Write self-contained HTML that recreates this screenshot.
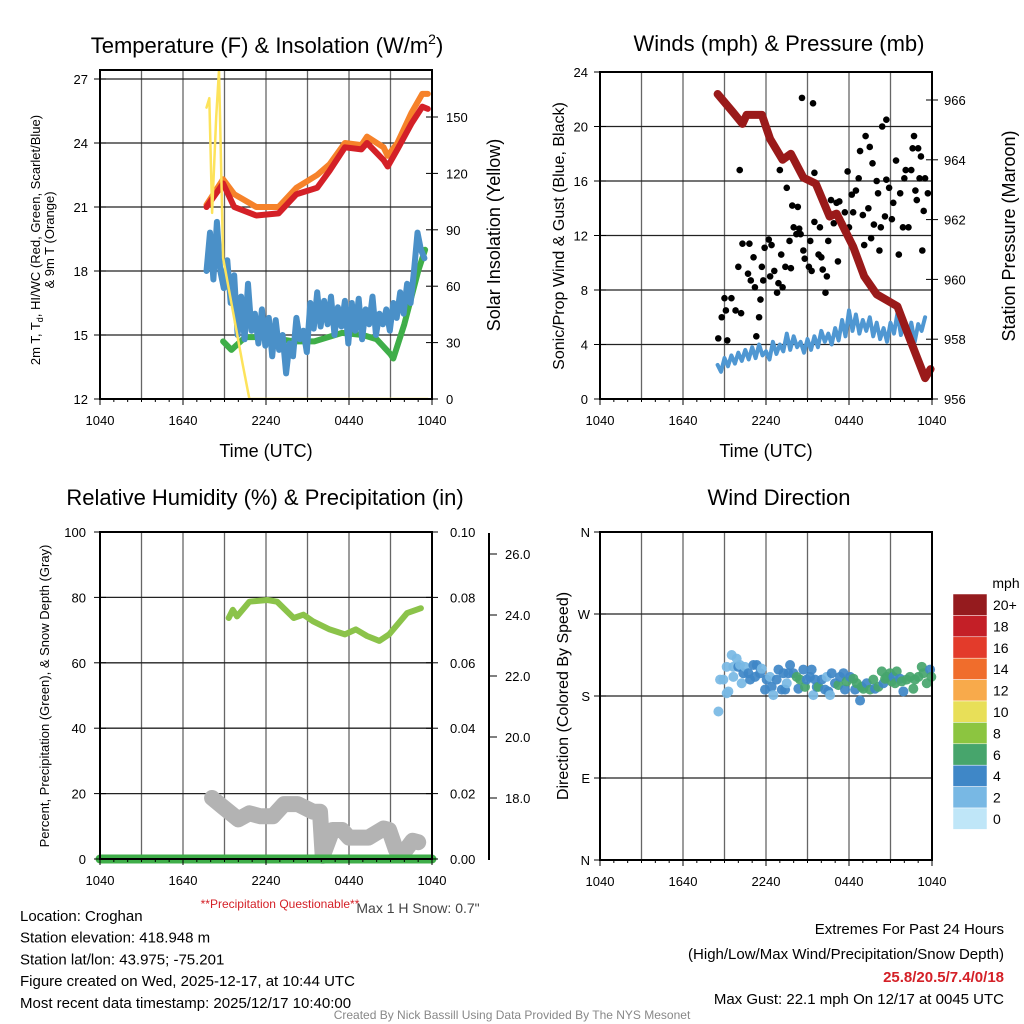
<!DOCTYPE html>
<html><head><meta charset="utf-8">
<style>
html,body{margin:0;padding:0;background:#fff;}
svg{display:block;font-family:"Liberation Sans",Arial,sans-serif;}
</style></head>
<body>
<svg id="c" width="1024" height="1024" viewBox="0 0 1024 1024" xmlns="http://www.w3.org/2000/svg">
<rect x="0" y="0" width="1024" height="1024" fill="#fff"/>
<g id="layer"></g>
</svg>
<script>
// ---------- DATA ----------
const tempHours = [7.7, 8.9, 9.7, 11.3, 12.9, 14.2, 15.7, 16.6, 17.7, 18.9, 19.3, 20.5, 20.8, 21.5, 22.5, 23.3, 23.7];
const tempRed   = [21.0, 22.1, 21.0, 20.6, 20.7, 21.6, 21.9, 22.7, 23.8, 23.7, 24.0, 23.2, 22.9, 23.7, 24.9, 25.7, 25.6];
const tempOrange= [21.1, 22.3, 21.6, 21.0, 21.0, 21.9, 22.5, 23.0, 24.0, 23.9, 24.3, 23.8, 23.4, 24.0, 25.4, 26.3, 26.3];
const dewHours  = [8.9, 9.5, 10.5, 12.0, 14.0, 15.5, 17.5, 19.0, 20.0, 21.0, 21.2, 22.0, 23.0, 23.5];
const dewGreen  = [14.7, 14.3, 14.9, 14.9, 14.7, 14.7, 15.1, 15.0, 14.8, 14.1, 13.9, 15.5, 18.0, 19.0];
const hiStart = 7.7, hiStep = 0.25;
const hiBlue = [18.0,19.8,17.6,20.3,18.0,17.2,18.5,16.5,17.8,15.0,16.8,14.8,17.4,15.2,16.0,14.6,16.2,14.5,15.8,14.0,15.7,14.3,15.0,13.2,14.6,14.0,15.8,14.8,15.2,14.2,16.5,15.3,17.0,15.4,16.6,15.5,16.8,15.0,16.3,15.4,16.6,14.6,16.5,15.2,16.7,14.8,16.2,15.5,16.8,15.0,16.0,15.5,16.2,15.2,16.5,15.8,17.0,16.0,17.4,16.5,18.0,19.8,19.0,18.6];
const solarHours = [7.7, 7.9, 8.1, 8.4, 8.6, 8.9, 9.5, 10.3, 10.8, 23.7];
const solarVals  = [155, 160, 99, 150, 175, 75, 51, 19, 0, 0];
const presHours = [8.5, 9.6, 10.3, 10.6, 11.7, 12.3, 13.2, 13.8, 14.7, 15.6, 16.6, 17.1, 18.3, 19.1, 20.0, 21.5, 22.4, 23.5, 23.9];
const presVals  = [966.2, 965.6, 965.2, 965.5, 965.5, 964.7, 964.0, 964.2, 963.4, 963.2, 962.1, 962.2, 961.1, 960.1, 959.5, 959.1, 958.0, 956.7, 957.0];
const windStart = 8.5, windStep = 0.25;
const windBlue = [2.5,2.0,3.0,2.4,3.2,2.6,3.4,2.8,3.6,2.9,3.8,3.0,4.0,3.2,3.5,2.9,4.2,3.3,4.0,3.5,4.8,3.6,4.6,3.8,4.2,3.4,4.4,3.6,4.6,3.8,5.0,4.2,4.8,4.0,5.2,4.3,5.8,4.6,6.5,5.0,6.2,4.8,5.8,5.0,6.0,4.6,5.6,4.4,5.2,4.2,5.6,4.8,6.3,4.7,5.8,4.5,5.6,4.2,5.5,5.0,6.0];
const gustHours = [8.55,8.8,9.0,9.1,9.2,9.5,9.8,10.0,10.1,10.2,10.3,10.7,10.8,10.9,11.1,11.2,11.3,11.5,11.6,11.7,11.8,11.9,12.2,12.3,12.4,12.6,12.8,12.9,13.0,13.1,13.2,13.4,13.5,13.7,13.8,13.9,14.0,14.2,14.3,14.4,14.5,14.6,14.7,14.8,15.1,15.2,15.3,15.4,15.5,15.5,15.8,15.9,16.0,16.1,16.3,16.4,16.5,16.7,16.9,17.1,17.2,17.3,17.5,17.7,17.9,18.0,18.2,18.3,18.5,18.7,18.8,19.0,19.1,19.2,19.4,19.5,19.6,19.7,19.8,20.0,20.1,20.2,20.3,20.4,20.6,20.7,20.7,20.9,21.1,21.2,21.4,21.6,21.7,21.9,22.0,22.1,22.3,22.5,22.6,22.7,22.8,22.9,23.0,23.1,23.2,23.3,23.4,23.5,23.7];
const gustVals  = [4.45,6.0,7.4,6.5,4.3,7.4,6.5,9.7,16.8,6.3,11.4,9.2,11.4,8.7,10.4,8.2,4.6,6.0,7.3,9.7,8.7,11.1,11.7,9.0,11.3,9.4,7.8,8.5,16.8,10.6,8.2,9.7,15.5,11.6,9.6,14.2,12.6,12.1,14.1,12.5,12.1,22.1,10.9,10.3,9.7,11.6,9.4,21.7,16.6,13.0,10.6,12.6,10.4,9.5,7.8,9.0,11.6,14.6,12.9,14.4,10.1,14.5,12.9,13.7,16.7,12.6,15.0,13.7,15.3,16.2,18.2,13.5,11.3,19.3,14.0,18.5,11.8,17.3,12.8,16.0,15.1,10.9,12.6,20.0,13.4,20.5,16.1,15.5,13.2,14.4,17.5,10.6,15.1,12.6,16.2,16.8,12.6,16.8,18.4,19.3,15.3,14.6,18.4,16.2,17.8,10.9,13.8,16.2,15.1];
const rhHours = [9.3, 9.6, 9.9, 10.8, 12.1, 12.8, 14.0, 14.7, 15.4, 16.6, 17.7, 18.5, 19.3, 20.2, 20.9, 22.2, 23.2];
const rhVals  = [73.7, 76.2, 74.2, 78.7, 79.2, 78.7, 73.7, 74.7, 72.7, 70.2, 68.7, 70.2, 68.2, 66.7, 68.7, 75.2, 76.7];
const snowHours = [8.1, 8.9, 10.0, 10.8, 11.6, 12.5, 13.3, 14.3, 15.4, 15.9, 16.1, 16.8, 17.5, 18.0, 19.4, 20.5, 20.9, 21.4, 22.1, 22.6, 23.0];
const snowVals  = [18.0, 17.7, 17.3, 17.5, 17.4, 17.4, 17.8, 17.8, 17.55, 17.55, 16.1, 16.95, 16.95, 16.7, 16.7, 17.0, 16.95, 16.3, 16.3, 16.6, 16.55];
const precipHours = [0, 24];
const precipVals  = [0, 0];
const dirHours = [8.56,8.68,8.92,9.16,9.28,9.52,9.16,9.64,9.64,9.88,10.0,10.12,10.24,10.36,10.48,10.73,10.85,11.09,11.21,11.33,11.57,11.69,11.93,12.05,12.29,12.41,12.53,12.77,12.9,13.14,13.26,13.38,13.5,13.62,13.74,13.98,14.22,14.34,14.46,14.7,14.82,14.94,15.18,15.3,15.42,15.55,15.67,15.79,16.03,16.27,16.39,16.51,16.63,16.75,16.99,17.23,17.35,17.6,17.71,17.83,18.08,18.32,18.44,18.56,18.8,18.92,19.04,19.28,19.52,19.76,19.88,20.12,20.37,20.49,20.61,20.73,20.97,21.09,21.21,21.33,21.45,21.69,21.81,21.93,22.17,22.41,22.65,22.77,23.02,23.26,23.38,23.62,23.86,23.95];
const dirVals  = [163,198,198,183,185,225,212,212,201,221,212,214,194,205,212,205,198,214,201,214,205,210,187,198,201,190,181,198,209,187,205,187,194,205,214,205,201,188,198,209,190,198,201,209,181,198,190,190,198,187,201,185,181,205,194,192,201,205,187,196,201,199,187,194,175,190,188,194,187,198,188,190,207,194,199,201,205,196,201,194,207,199,196,185,198,201,188,198,201,212,205,194,209,201];
const dirSpeed = [1.5,1.5,1.5,1.5,1.5,1.5,1.5,1.5,1.5,1.5,3.5,1.5,1.5,3.5,1.5,3.5,3.5,3.5,3.5,3.5,3.5,1.5,3.5,3.5,1.5,3.5,1.5,3.5,3.5,3.5,3.5,3.5,1.5,3.5,3.5,3.5,5.5,3.5,5.5,3.5,5.5,3.5,3.5,3.5,1.5,3.5,3.5,5.5,3.5,3.5,1.5,3.5,1.5,3.5,3.5,5.5,3.5,3.5,3.5,5.5,3.5,5.5,3.5,5.5,3.5,5.5,5.5,3.5,5.5,5.5,3.5,5.5,5.5,3.5,5.5,5.5,5.5,5.5,3.5,5.5,5.5,3.5,5.5,3.5,5.5,5.5,5.5,5.5,5.5,5.5,5.5,5.5,3.5,5.5];
const speedLabels = ["0","2","4","6","8","10","12","14","16","18","20+"];
const speedColors = ["#bfe6f8","#78b8e4","#3f87c7","#47a56c","#8cc540","#e8df58","#f8aa4b","#f06d2c","#e33b2b","#c41f27","#951b1e"];
const timeLabels = ["1040","1640","2240","0440","1040"];

// ---------- HELPERS ----------
const NS = "http://www.w3.org/2000/svg";
const layer = document.getElementById('layer');
function mk(tag, attrs, parent){ const e=document.createElementNS(NS,tag); for(const k in attrs) e.setAttribute(k,attrs[k]); (parent||layer).appendChild(e); return e; }
function txt(x,y,s,size,anchor,extra){ const t=mk('text',Object.assign({x:x,y:y,'font-size':size,'text-anchor':anchor||'middle',fill:'#000'},extra||{})); t.textContent=s; return t; }
function lin(x0,x1,d0,d1){ return v=> x0+(v-d0)*(x1-x0)/(d1-d0); }
function pathFrom(xs,ys,xf,yf){ let d=''; for(let i=0;i<xs.length;i++){ d+=(i?'L':'M')+xf(xs[i]).toFixed(1)+' '+yf(ys[i]).toFixed(1);} return d; }

function frame(x0,x1,y0,y1,name,vGridHours,hGrid){
  const g=mk('g',{});
  
  
  const xs=lin(x0,x1,0,24);
  vGridHours.forEach(h=>{ const l=mk('line',{x1:xs(h),x2:xs(h),y1:y0,y2:y1,stroke:'#666','stroke-width':1.3},g);   });
  hGrid.forEach(y=>{ const l=mk('line',{x1:x0,x2:x1,y1:y,y2:y,stroke:'#222','stroke-width':1.3},g);   });
  return {g,xs};
}
function border(x0,x1,y0,y1,name){ const r=mk('rect',{x:x0,y:y0,width:x1-x0,height:y1-y0,fill:'none',stroke:'#000','stroke-width':2});   }
function timeAxis(x0,x1,yb){
  const xs=lin(x0,x1,0,24);
  for(let h=0;h<=24;h++){ const big=h%6===0; const l=mk('line',{x1:xs(h),x2:xs(h),y1:yb,y2:yb+(big?6:3),stroke:'#000','stroke-width':1});   }
  timeLabels.forEach((s,i)=>{ const t=txt(xs(i*6),yb+26,s,13);   });
}
function ticksLeft(x,ys,labels,lx){ ys.forEach((y,i)=>{ const l=mk('line',{x1:x-6,x2:x+6,y1:y,y2:y,stroke:'#000','stroke-width':1});   const t=txt(lx,y+5,labels[i],13,'end');   }); }
function ticksRight(x,ys,labels,lx){ ys.forEach((y,i)=>{ const l=mk('line',{x1:x-6,x2:x+6,y1:y,y2:y,stroke:'#000','stroke-width':1});   const t=txt(lx,y+5,labels[i],13,'start');   }); }
function seriesLine(d,color,w,name,op){ const p=mk('path',{d:d,fill:'none',stroke:color,'stroke-width':w,'stroke-linejoin':'round','stroke-linecap':'round','stroke-opacity':op||1});   return p; }

// ---------- PANEL 1 ----------
(function(){
  const x0=100,x1=432,y0=70,y1=399;
  const ys=lin(399,79,12,27), yr=lin(399,117,0,150);
  frame(x0,x1,y0,y1,'temperature-grid',[3,6,9,12,15,18,21],[15,18,21,24,27].map(ys));
  const xs=lin(x0,x1,0,24);
  const hiH=hiBlue.map((v,i)=>hiStart+i*hiStep);
  seriesLine(pathFrom(dewHours,dewGreen,xs,ys),'#3fae49',6,'dewpoint-line');
  seriesLine(pathFrom(hiH,hiBlue,xs,ys),'#4a90c8',6,'heat-index-line');
  seriesLine(pathFrom(tempHours,tempOrange,xs,ys),'#f6822a',6,'9m-temperature-line');
  seriesLine(pathFrom(tempHours,tempRed,xs,ys),'#d42027',6,'2m-temperature-line');
  const cp=mk('clipPath',{id:'cp1'}); mk('rect',{x:x0,y:y0,width:x1-x0,height:y1-y0},cp);
  const sp=seriesLine(pathFrom(solarHours,solarVals,xs,yr),'#fde35b',2.5,'solar-insolation-line'); sp.setAttribute('clip-path','url(#cp1)');
  border(x0,x1,y0,y1,'temperature-plot-border');
  ticksLeft(x0,[12,15,18,21,24,27].map(ys),['12','15','18','21','24','27'],88);
  ticksRight(x1,[0,30,60,90,120,150].map(yr),['0','30','60','90','120','150'],446);
  timeAxis(x0,x1,y1);
  let t=txt(267,53,'Temperature (F) & Insolation (W/m',22);  
  const ts=mk('tspan',{dy:-9,'font-size':14},t); ts.textContent='2'; const ts2=mk('tspan',{dy:9},t); ts2.textContent=')';
  t=txt(266,457,'Time (UTC)',18);  
  t=txt(0,0,'2m T, T',13,'middle',{transform:'translate(40,240) rotate(-90)'});  
  const sub=mk('tspan',{'font-size':9,dy:3},t); sub.textContent='d'; const r2=mk('tspan',{dy:-3},t); r2.textContent=', HI/WC (Red, Green, Scarlet/Blue)';
  t=txt(0,0,'& 9m T (Orange)',13,'middle',{transform:'translate(54,240) rotate(-90)'});  
  t=txt(0,0,'Solar Insolation (Yellow)',18,'middle',{transform:'translate(500,235) rotate(-90)'});  
})();

// ---------- PANEL 2 ----------
(function(){
  const x0=600,x1=932,y0=72,y1=399;
  const ys=lin(399,72,0,24), yr=lin(399,100,956,966);
  frame(x0,x1,y0,y1,'winds-grid',[3,6,9,12,15,18,21],[4,8,12,16,20].map(ys));
  const xs=lin(x0,x1,0,24);
  const wH=windBlue.map((v,i)=>windStart+i*windStep);
  seriesLine(pathFrom(wH,windBlue,xs,ys),'#4f97d2',4,'wind-speed-line');
  gustHours.forEach((h,i)=>{ const c=mk('circle',{cx:xs(h),cy:ys(gustVals[i]),r:3.3,fill:'#000'});   });
  seriesLine(pathFrom(presHours,presVals,xs,yr),'#9a1a1a',8,'pressure-line');
  border(x0,x1,y0,y1,'winds-plot-border');
  ticksLeft(x0,[0,4,8,12,16,20,24].map(ys),['0','4','8','12','16','20','24'],588);
  ticksRight(x1,[956,958,960,962,964,966].map(yr),['956','958','960','962','964','966'],944);
  timeAxis(x0,x1,y1);
  let t=txt(779,51,'Winds (mph) & Pressure (mb)',22);  
  t=txt(766,457,'Time (UTC)',18);  
  t=txt(0,0,'Sonic/Prop Wind & Gust (Blue, Black)',16,'middle',{transform:'translate(564,236) rotate(-90)'});  
  t=txt(0,0,'Station Pressure (Maroon)',18,'middle',{transform:'translate(1015,236) rotate(-90)'});  
})();

// ---------- PANEL 3 ----------
(function(){
  const x0=100,x1=432,y0=532,y1=859;
  const ys=lin(859,532,0,100), yr=lin(859,532,0,0.10), ysn=lin(798,737,18,20);
  frame(x0,x1,y0,y1,'humidity-grid',[3,6,9,12,15,18,21],[20,40,60,80].map(ys));
  const xs=lin(x0,x1,0,24);
  seriesLine(pathFrom(snowHours,snowVals,xs,ysn),'#b3b3b3',16,'snow-depth-line');
  seriesLine(pathFrom(rhHours,rhVals,xs,ys),'#8bc34a',6,'relative-humidity-line');
  seriesLine(pathFrom(precipHours,precipVals,xs,yr),'#3fae49',9,'precipitation-line');
  border(x0,x1,y0,y1,'humidity-plot-border');
  ticksLeft(x0,[0,20,40,60,80,100].map(ys),['0','20','40','60','80','100'],86);
  ticksRight(x1,[0,0.02,0.04,0.06,0.08,0.10].map(yr),['0.00','0.02','0.04','0.06','0.08','0.10'],450);
  const ax=mk('line',{x1:489,x2:489,y1:533,y2:860,stroke:'#000','stroke-width':2});  
  [18,20,22,24,26].forEach(v=>{ const l=mk('line',{x1:489,x2:497,y1:ysn(v),y2:ysn(v),stroke:'#000','stroke-width':1});   const t=txt(505,ysn(v)+5,v.toFixed(1),13,'start');   });
  timeAxis(x0,x1,y1);
  let t=txt(265,505,'Relative Humidity (%) & Precipitation (in)',22);  
  t=txt(0,0,'Percent, Precipitation (Green), & Snow Depth (Gray)',13,'middle',{transform:'translate(49,696) rotate(-90)'});  
})();

// ---------- PANEL 4 ----------
(function(){
  const x0=600,x1=932,y0=532,y1=860;
  const ys=lin(860,532,0,360);
  frame(x0,x1,y0,y1,'direction-grid',[3,6,9,12,15,18,21],[90,180,270].map(ys));
  const xs=lin(x0,x1,0,24);
  dirHours.forEach((h,i)=>{ const ci=Math.min(10,Math.floor(dirSpeed[i]/2)+ (dirSpeed[i]%2>=1?1:0)); const c=mk('circle',{cx:xs(h),cy:ys(dirVals[i]),r:5,fill:speedColors[ci],'fill-opacity':0.92});   });
  border(x0,x1,y0,y1,'direction-plot-border');
  ticksLeft(x0,[0,90,180,270,360].map(ys),['N','E','S','W','N'],590);
  timeAxis(x0,x1,y1);
  let t=txt(779,505,'Wind Direction',22);  
  t=txt(0,0,'Direction (Colored By Speed)',16,'middle',{transform:'translate(568,696) rotate(-90)'});  
  t=txt(1006,588,'mph',14);  
  const bh=21.4, top=594;
  speedColors.slice().reverse().forEach((c,i)=>{ const r=mk('rect',{x:953,y:top+i*bh,width:34,height:bh,fill:c,stroke:'#fff','stroke-width':0.5});   });
  speedLabels.slice().reverse().forEach((s,i)=>{ const tt=txt(993,top+i*bh+16,s,14,'start');   });
})();

// ---------- FOOTER TEXT ----------
(function(){
  const left=["Location: Croghan","Station elevation: 418.948 m","Station lat/lon: 43.975; -75.201","Figure created on Wed, 2025-12-17, at 10:44 UTC","Most recent data timestamp: 2025/12/17 10:40:00"];
  left.forEach((s,i)=>{ const t=txt(20,921+i*21.7,s,15,'start');   });
  let t=txt(280,908,'**Precipitation Questionable**',12,'middle',{fill:'#d42027'});  
  t=txt(418,913,'Max 1 H Snow: 0.7"',14,'middle',{fill:'#444'});  
  t=txt(1004,934,'Extremes For Past 24 Hours',15,'end');  
  t=txt(1004,959,'(High/Low/Max Wind/Precipitation/Snow Depth)',15,'end');  
  t=txt(1004,982,'25.8/20.5/7.4/0/18',15,'end',{fill:'#d42027','font-weight':'bold'});  
  t=txt(1004,1004,'Max Gust: 22.1 mph On 12/17 at 0045 UTC',15,'end');  
  t=txt(512,1019,'Created By Nick Bassill Using Data Provided By The NYS Mesonet',12,'middle',{fill:'#888'});  
})();
</script>
</body></html>
